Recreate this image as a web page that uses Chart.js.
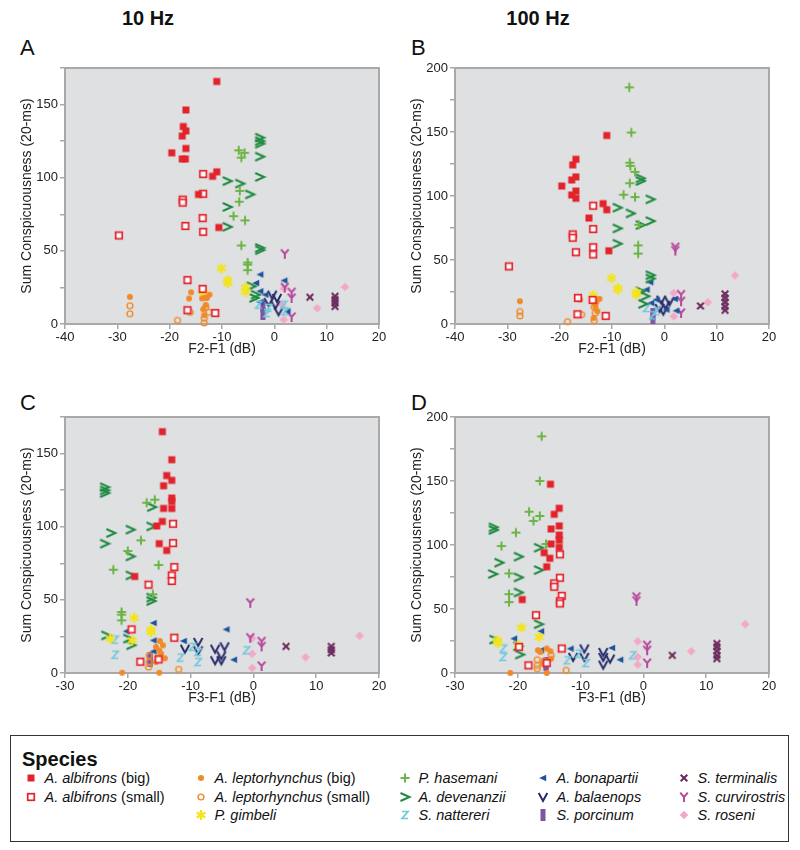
<!DOCTYPE html>
<html>
<head>
<meta charset="utf-8">
<script src="https://cdn.jsdelivr.net/npm/chart.js@4.4.1/dist/chart.umd.min.js"></script>
<style>
  body { margin: 0; background: #fff; font-family: 'Liberation Sans', Arial, sans-serif; color: #111; }
  #page { position: relative; width: 800px; height: 850px; overflow: hidden; }
  .panel { position: absolute; width: 392px; height: 305px; }
  .colhead { position: absolute; top: 7px; font-weight: bold; font-size: 20px; width: 120px; text-align: center; }
  .letter { position: absolute; font-size: 22px; }
  #legend { position: absolute; left: 10px; top: 735px; width: 777px; height: 105px; border: 1.5px solid #333; }
  #legend .title { position: absolute; left: 11px; top: 12px; font-weight: bold; font-size: 20px; }
  .item { position: absolute; font-size: 14.5px; white-space: nowrap; line-height: 18px; }
  .item canvas { position: absolute; top: 2px; }
  .item i { font-style: italic; }
</style>
</head>
<body>
<div id="page">
  <div class="colhead" style="left:88px">10 Hz</div>
  <div class="colhead" style="left:478px">100 Hz</div>
  <div class="letter" style="left:20px;top:35px">A</div>
  <div class="letter" style="left:411px;top:35px">B</div>
  <div class="letter" style="left:20px;top:390px">C</div>
  <div class="letter" style="left:411px;top:390px">D</div>
  <div class="panel" style="left:0;top:55px"><canvas id="chartA"></canvas></div>
  <div class="panel" style="left:390px;top:55px"><canvas id="chartB"></canvas></div>
  <div class="panel" style="left:0;top:404px"><canvas id="chartC"></canvas></div>
  <div class="panel" style="left:390px;top:404px"><canvas id="chartD"></canvas></div>
  <div id="legend"><div class="title">Species</div></div>
</div>
<script>
// ── Species ──────────────────────────────────────────────
const SPECIES_NAMES = ['A. albifrons', 'A. albifrons', 'A. leptorhynchus', 'A. leptorhynchus', 'P. gimbeli',
  'P. hasemani', 'A. devenanzii', 'S. nattereri', 'A. bonapartii', 'A. balaenops', 'S. porcinum',
  'S. terminalis', 'S. curvirostris', 'S. roseni'];
const SPECIES_NOTES = ['(big)', '(small)', '(big)', '(small)', '', '', '', '', '', '', '', '', '', ''];
const MARKERS = ['sq', 'sqo', 'dot', 'ring', 'star', 'plus', 'gt', 'z', 'tri', 'v', 'bar', 'x', 'y', 'dia'];
const COLORS = ['#e3232b', '#e3232b', '#f08a28', '#f08a28', '#f2e41e', '#6cb545', '#1f8a40', '#72c8dc',
  '#1b5499', '#262a6b', '#7d56a3', '#6a2a5c', '#b6479b', '#f3a8c8'];

// ── Axis ticks ───────────────────────────────────────────
const X_TICKS_F2 = [-40, -30, -20, -10, 0, 10, 20];
const X_TICKS_F3 = [-30, -20, -10, 0, 10, 20];
const Y_MAX_10HZ = 175;
const Y_MAX_100HZ = 200;

// ── Panel A: 10 Hz, F2-F1 ────────────────────────────────
const A_albBig = [[-11.0,165.8],[-16.9,146.3],[-17.4,135],[-16.9,132],[-17.6,128.5],[-16.9,120],[-19.6,117],[-17.6,112.8],[-17.0,112.8],[-11.0,104],[-11.8,101],[-14.5,88.6],[-10.6,66]];
const A_albSmall = [[-13.6,102.5],[-13.6,89],[-17.5,85],[-17.5,83],[-13.7,72.4],[-17.0,67],[-13.6,63],[-29.7,60.5],[-16.6,30],[-13.7,24],[-16.6,9.4],[-11.3,7.5]];
const A_lepBig = [[-27.6,18.5],[-15.9,21.7],[-16.3,17.4],[-12.4,20],[-13.2,18],[-13.8,17.5],[-12.9,17.8],[-13.1,13],[-13.6,10],[-13.4,6]];
const A_lepSmall = [[-27.6,12.5],[-27.6,7],[-18.5,2.5],[-16.1,8],[-13.1,11.6],[-12.5,8],[-13.4,4],[-13.4,0.7]];
const A_gimbeli = [[-10.1,38],[-8.9,30],[-8.9,28],[-5.5,25],[-5.5,22],[-13.6,21.7]];
const A_hasemani = [[-6.8,118.7],[-5.7,117],[-6.3,113.7],[-6.6,91],[-6.7,83.6],[-7.8,73.7],[-5.6,70.8],[-6.3,53.7],[-5.1,42],[-5.1,40.6],[-5.1,36.8]];
const A_devenanzii = [[-2.8,127.4],[-2.8,125],[-2.8,123.3],[-2.8,114.4],[-2.8,100.5],[-9.0,97.7],[-6.6,96],[-4.7,88.6],[-9.0,80],[-9.0,66.4],[-2.8,52],[-2.8,50.5],[-4.4,25.8],[-3.6,20],[-3.9,17.8]];
const A_nattereri = [[-3.0,13.2],[-1.4,7.5],[1.8,13.2],[2.1,8.7],[-1.1,11]];
const A_bonapartii = [[-2.7,33.8],[-3.5,28],[1.9,29.7],[-2.7,22.4],[-1.7,20],[-2.7,15],[2.5,8.7]];
const A_balaenops = [[-0.4,20],[0.5,17.8],[0.2,13.2],[0.8,8.7],[-1.1,15]];
const A_porcinum = [[-2.2,7],[-2.2,12]];
const A_terminalis = [[6.8,18.3],[11.6,19],[11.6,16.7],[11.6,14.4],[11.6,12]];
const A_curvirostris = [[2.0,48],[3.3,21.7],[3.3,17.8],[2.0,25],[3.3,4.8]];
const A_roseni = [[13.5,25.3],[8.2,10.7],[1.8,3],[1.8,24.2],[1.5,13]];

// ── Panel B: 100 Hz, F2-F1 ───────────────────────────────
const B_albBig = [[-11.0,147.3],[-16.9,128.7],[-17.5,124.3],[-16.9,114.9],[-17.7,112.5],[-19.6,107.8],[-16.9,103.9],[-17.7,100.8],[-16.9,98.2],[-11.7,94],[-11.0,89.3],[-14.4,82.8],[-10.6,57.2]];
const B_albSmall = [[-13.6,92.4],[-13.6,74.2],[-17.5,70],[-17.5,67.4],[-13.6,60],[-13.6,54.3],[-16.9,56.1],[-29.7,45],[-16.5,20.4],[-13.7,18.8],[-16.6,7.6],[-11.2,6.3]];
const B_lepBig = [[-27.6,17.8],[-16.1,19],[-12.4,19.6],[-13.0,17],[-13.2,13.8],[-12.8,10],[-13.5,4.7]];
const B_lepSmall = [[-27.6,9.7],[-27.6,6.3],[-18.5,1.8],[-15.8,7.3],[-13.4,13.3],[-13.2,8.6],[-13.4,2.6]];
const B_gimbeli = [[-10.1,35.8],[-8.9,28],[-8.9,27],[-5.3,24.8],[-5.4,23],[-13.6,22.5]];
const B_hasemani = [[-6.7,184.9],[-6.3,149.6],[-6.6,126],[-6.5,123.5],[-5.6,118.8],[-6.6,110],[-7.8,101],[-5.6,99.2],[-4.9,77.5],[-5.0,61.4],[-5.0,55]];
const B_devenanzii = [[-4.6,113.8],[-4.6,111.7],[-2.7,97.4],[-9.0,90.9],[-6.5,86.4],[-2.7,80.4],[-9.0,74.7],[-4.6,77.3],[-9.0,62.7],[-2.7,38.1],[-2.7,35.5],[-4.6,25.6],[-3.7,21.7],[-4.1,15.7]];
const B_nattereri = [[-3.4,12.5],[-1.5,10],[-2.2,6.8]];
const B_bonapartii = [[-2.7,32.6],[-3.4,26.9],[-1.5,19],[2.0,19.6],[-2.5,16.4],[2.3,10.4],[0.4,11.2]];
const B_balaenops = [[-0.6,19],[0.2,15],[-0.2,10.4],[1.0,17.8],[-0.9,12.5]];
const B_porcinum = [[-2.2,5],[-2.2,8]];
const B_terminalis = [[6.9,14.1],[11.6,23.5],[11.6,20.4],[11.6,17.2],[11.6,13.8],[11.6,10.7]];
const B_curvirostris = [[2.1,60],[2.1,57.4],[3.2,23],[3.2,17.8],[3.2,8.6]];
const B_roseni = [[13.5,37.9],[8.3,17],[1.8,24.3],[1.8,6]];

// ── Panel C: 10 Hz, F3-F1 ────────────────────────────────
const C_albBig = [[-14.5,165],[-13.0,145.8],[-13.8,135],[-13.0,131.7],[-14.3,128],[-13.0,119.6],[-13.0,117.3],[-14.3,112.5],[-13.0,112.5],[-14.5,103.6],[-15.4,100.5],[-15.0,88.4],[-13.8,83.8],[-18.9,66]];
const C_albSmall = [[-12.8,102],[-12.8,88.8],[-12.6,72.4],[-13.0,66.7],[-13.0,62.9],[-16.7,60.4],[-19.4,29.8],[-12.6,24.1],[-18.0,7.7],[-15.1,9.3]];
const C_lepBig = [[-14.9,21.9],[-14.4,18.9],[-15.5,17.8],[-15.0,15.5],[-14.7,13.2],[-14.1,10],[-15.2,9.8],[-15.5,7.5],[-20.9,0.2],[-15.0,0.2]];
const C_lepSmall = [[-11.9,2.5],[-16.6,12],[-16.6,7.5],[-16.7,4],[-15.2,10.5]];
const C_gimbeli = [[-19.0,37.8],[-16.3,29.6],[-16.3,28],[-22.8,23.5],[-19.3,22.3]];
const C_hasemani = [[-15.7,118.5],[-17.0,116.4],[-17.9,90.7],[-20.0,83.4],[-22.3,70.6],[-15.1,73.8],[-16.0,53.8],[-21.0,41.7],[-21.0,39.9],[-21.0,36]];
const C_devenanzii = [[-23.7,127],[-23.7,124.8],[-23.7,123],[-16.2,113.4],[-16.3,100.2],[-22.7,95.7],[-19.6,98],[-23.7,88.4],[-19.6,79.7],[-19.6,66.7],[-16.3,51.5],[-16.3,49.2],[-23.5,25.7],[-20.0,23.5],[-19.5,19]];
const C_nattereri = [[-22.0,22.8],[-22.0,12.5],[-11.6,10.5],[-8.8,14.4],[-8.8,7.5],[-9.7,17.8],[-1.1,15.5]];
const C_bonapartii = [[-15.9,34.2],[-4.3,29.8],[-20.2,28.5],[-15.9,22.3],[-11.1,21.9],[-15.9,14.8],[-3.1,9.1]];
const C_balaenops = [[-8.8,21.2],[-10.9,16.6],[-8.8,15.5],[-6.1,16.6],[-4.6,18.2],[-5.1,12.1],[-6.1,8.7],[-5.1,8.7]];
const C_porcinum = [[-16.4,8],[-16.4,10]];
const C_terminalis = [[5.2,18.2],[12.4,18.2],[12.4,15.9],[12.4,13.7]];
const C_curvirostris = [[-0.5,48],[-0.5,24.1],[1.3,21.6],[1.3,18.2],[1.3,4.8]];
const C_roseni = [[16.9,25.5],[8.3,10.7],[-0.2,23.7],[-0.2,13.2],[-0.2,3.4]];

// ── Panel D: 100 Hz, F3-F1 ───────────────────────────────
const D_albBig = [[-14.8,147.5],[-13.4,128.7],[-14.2,124],[-14.7,112.5],[-13.4,114.9],[-13.4,107.8],[-13.4,103.9],[-13.4,98.2],[-14.7,100.8],[-15.8,94],[-14.9,89.6],[-15.4,83],[-19.3,57.4]];
const D_albSmall = [[-13.3,92.7],[-13.3,74.4],[-14.2,70],[-14.2,67.4],[-13.0,60.3],[-13.3,56.1],[-13.3,54.3],[-17.1,45.2],[-13.0,19.1],[-19.8,20.4],[-15.4,7.8],[-18.3,6]];
const D_lepBig = [[-16.8,17.8],[-15.4,19.1],[-14.8,17],[-14.7,11.2],[-16.4,16.4],[-16.0,7.3],[-21.2,0],[-15.4,0]];
const D_lepSmall = [[-12.3,2.1],[-16.9,10.4],[-16.9,6],[-16.9,3.4],[-15.8,9.4],[-14.7,13.8]];
const D_gimbeli = [[-19.4,35.5],[-16.6,28.2],[-23.2,25.6],[-23.2,23.5],[-19.9,21.7]];
const D_hasemani = [[-16.2,184.9],[-16.5,150],[-18.2,126],[-16.5,122.7],[-17.5,118.8],[-20.3,109.7],[-15.5,100.8],[-22.6,99.2],[-21.4,77.8],[-21.4,61.6],[-21.4,55.4]];
const D_devenanzii = [[-23.9,113.8],[-23.9,111.7],[-16.7,97.9],[-19.9,90.9],[-23.0,86.2],[-24.0,77.3],[-19.9,74.7],[-16.7,80.4],[-19.9,62.9],[-16.7,38.1],[-23.8,26.1],[-20.0,20.9],[-19.7,14.4]];
const D_nattereri = [[-22.3,19.1],[-22.3,12.5],[-12.1,9.9],[-9.1,7.8],[-10.3,15.1],[-1.7,13.8]];
const D_bonapartii = [[-16.3,32.6],[-20.6,26.9],[-16.3,17.8],[-11.6,19],[-5.0,19.6],[-3.7,10.4]];
const D_balaenops = [[-9.4,19.1],[-11.2,12.5],[-9.4,12.5],[-6.4,16.4],[-6.4,12.5],[-5.3,11.2],[-6.4,6.5]];
const D_porcinum = [[-15.5,6],[-15.5,8]];
const D_terminalis = [[4.6,13.8],[11.7,23],[11.7,20.4],[11.7,17.2],[11.7,13.8],[11.7,11.2]];
const D_curvirostris = [[-1.1,59.5],[-1.1,56.4],[0.6,21.7],[0.6,17.8],[0.6,7.8]];
const D_roseni = [[16.2,38.1],[7.6,17],[-0.9,24.8],[-0.9,12.5],[-0.9,6.5]];

// ── Marker images ────────────────────────────────────────
function makeMarker(kind, color) {
  const c = document.createElement('canvas');
  c.width = 14; c.height = 14;
  if (kind === 'bar') { c.width = 6; c.height = 12; }
  const g = c.getContext('2d');
  g.translate(c.width / 2, c.height / 2);
  g.strokeStyle = color;
  g.fillStyle = color;
  g.lineWidth = 2;
  g.beginPath();
  switch (kind) {
    case 'sq':   g.fillRect(-3.5, -3.5, 7, 7); break;
    case 'sqo':
      g.fillStyle = 'rgba(255,255,255,0.9)';
      g.fillRect(-4, -4, 8, 8);
      g.lineWidth = 1.7;
      g.strokeRect(-3.3, -3.3, 6.6, 6.6);
      break;
    case 'dot':  g.arc(0, 0, 3, 0, Math.PI * 2); g.fill(); break;
    case 'ring': g.lineWidth = 1.4; g.arc(0, 0, 2.9, 0, Math.PI * 2); g.stroke(); break;
    case 'star':
      g.lineWidth = 2.4;
      g.moveTo(0, -5); g.lineTo(0, 5);
      g.moveTo(-4.3, -2.5); g.lineTo(4.3, 2.5);
      g.moveTo(-4.3, 2.5); g.lineTo(4.3, -2.5);
      g.stroke(); break;
    case 'plus':
      g.moveTo(0, -4.5); g.lineTo(0, 4.5);
      g.moveTo(-4.5, 0); g.lineTo(4.5, 0);
      g.stroke(); break;
    case 'gt':
      g.moveTo(-4.5, -4); g.lineTo(4.5, 0); g.lineTo(-4.5, 4);
      g.stroke(); break;
    case 'z':
      g.lineWidth = 1.7;
      g.moveTo(-3, -3.5); g.lineTo(3, -3.5); g.lineTo(-3, 3.5); g.lineTo(3, 3.5);
      g.stroke(); break;
    case 'tri':
      g.moveTo(-3.8, 0); g.lineTo(3.2, -3.3); g.lineTo(3.2, 3.3); g.closePath();
      g.fill(); break;
    case 'v':
      g.moveTo(-4.3, -4); g.lineTo(0, 4); g.lineTo(4.3, -4);
      g.stroke(); break;
    case 'bar':  g.fillRect(-2.5, -6, 5, 12); break;
    case 'x':
      g.moveTo(-3.3, -3.3); g.lineTo(3.3, 3.3);
      g.moveTo(-3.3, 3.3); g.lineTo(3.3, -3.3);
      g.stroke(); break;
    case 'y':
      g.moveTo(-3.8, -4.3); g.lineTo(0, 0); g.lineTo(3.8, -4.3);
      g.moveTo(0, 0); g.lineTo(0, 5);
      g.stroke(); break;
    case 'dia':
      g.moveTo(0, -4.3); g.lineTo(4.3, 0); g.lineTo(0, 4.3); g.lineTo(-4.3, 0); g.closePath();
      g.fill(); break;
  }
  return c;
}

const MARKER_IMAGES = MARKERS.map((m, i) => makeMarker(m, COLORS[i]));

// ── Plot background + frame ──────────────────────────────
const plotFrame = {
  id: 'plotFrame',
  beforeDraw(chart) {
    const { ctx, chartArea: a } = chart;
    ctx.save();
    ctx.fillStyle = '#dfe0e2';
    ctx.fillRect(a.left, a.top, a.right - a.left, a.bottom - a.top);
    ctx.strokeStyle = '#a9a9a9';
    ctx.lineWidth = 2;
    ctx.strokeRect(a.left, a.top, a.right - a.left, a.bottom - a.top);
    ctx.restore();
  }
};

const AXIS_COLOR = '#a9a9a9';
const TICK_FONT = { family: "'Liberation Sans', Arial, sans-serif", size: 13 };

function buildPanel(canvasId, sets, xTicks, yMax, xTitle) {
  const datasets = sets.map((pts, i) => ({
    label: SPECIES_NAMES[i] + ' ' + SPECIES_NOTES[i],
    data: pts.map(p => ({ x: p[0], y: p[1] })),
    pointStyle: MARKER_IMAGES[i],
    pointRadius: 5,
    clip: 6,
  }));

  return new Chart(document.getElementById(canvasId), {
    type: 'scatter',
    data: { datasets },
    options: {
      responsive: false,
      animation: false,
      events: [],
      layout: { padding: { top: 13, right: 13, left: 0, bottom: 0 } },
      plugins: { legend: { display: false }, tooltip: { enabled: false } },
      scales: {
        x: {
          type: 'linear',
          min: xTicks[0],
          max: xTicks[xTicks.length - 1],
          afterBuildTicks: (s) => { s.ticks = xTicks.map(v => ({ value: v })); },
          afterFit: (s) => { s.height = 36; },
          grid: { drawOnChartArea: false, drawTicks: true, tickLength: 5, color: AXIS_COLOR, lineWidth: 1.5 },
          border: { display: true, color: AXIS_COLOR, width: 2 },
          ticks: { color: '#222', font: TICK_FONT, padding: 1, maxRotation: 0, autoSkip: false },
          title: { display: true, text: xTitle, color: '#222', font: { family: TICK_FONT.family, size: 14 }, padding: { top: 0, bottom: 2 } }
        },
        y: {
          type: 'linear',
          min: 0,
          max: yMax,
          afterFit: (s) => { s.width = 65; },
          grid: { drawOnChartArea: false, drawTicks: true, tickLength: 5, color: AXIS_COLOR, lineWidth: 1.5 },
          border: { display: true, color: AXIS_COLOR, width: 2 },
          ticks: {
            stepSize: 25, autoSkip: false, color: '#222', font: TICK_FONT, padding: 2,
            callback: (v) => (v % 50 === 0 ? v : '')
          },
          title: { display: true, text: 'Sum Conspicuousness (20-ms)', color: '#222', font: { family: TICK_FONT.family, size: 14 }, padding: { top: 19, bottom: 0 } }
        }
      }
    },
    plugins: [plotFrame]
  });
}

function sizeCanvas(id) {
  const c = document.getElementById(id);
  c.width = 392; c.height = 305;
  c.style.width = '392px'; c.style.height = '305px';
}
['chartA', 'chartB', 'chartC', 'chartD'].forEach(sizeCanvas);

buildPanel('chartA', [A_albBig, A_albSmall, A_lepBig, A_lepSmall, A_gimbeli, A_hasemani, A_devenanzii, A_nattereri, A_bonapartii, A_balaenops, A_porcinum, A_terminalis, A_curvirostris, A_roseni], X_TICKS_F2, Y_MAX_10HZ, 'F2-F1 (dB)');
buildPanel('chartB', [B_albBig, B_albSmall, B_lepBig, B_lepSmall, B_gimbeli, B_hasemani, B_devenanzii, B_nattereri, B_bonapartii, B_balaenops, B_porcinum, B_terminalis, B_curvirostris, B_roseni], X_TICKS_F2, Y_MAX_100HZ, 'F2-F1 (dB)');
buildPanel('chartC', [C_albBig, C_albSmall, C_lepBig, C_lepSmall, C_gimbeli, C_hasemani, C_devenanzii, C_nattereri, C_bonapartii, C_balaenops, C_porcinum, C_terminalis, C_curvirostris, C_roseni], X_TICKS_F3, Y_MAX_10HZ, 'F3-F1 (dB)');
buildPanel('chartD', [D_albBig, D_albSmall, D_lepBig, D_lepSmall, D_gimbeli, D_hasemani, D_devenanzii, D_nattereri, D_bonapartii, D_balaenops, D_porcinum, D_terminalis, D_curvirostris, D_roseni], X_TICKS_F3, Y_MAX_100HZ, 'F3-F1 (dB)');

// ── Legend (HTML) ────────────────────────────────────────
// column of each species and its row; x = marker centre, text starts 14px right
const LEGEND_COLS = [21, 191, 395, 533, 674];
const LEGEND_ROWS = [769, 788, 806];
const LEGEND_SLOT = [[0,0],[0,1],[1,0],[1,1],[1,2],[2,0],[2,1],[2,2],[3,0],[3,1],[3,2],[4,0],[4,1],[4,2]];

const legend = document.getElementById('legend');
LEGEND_SLOT.forEach(([col, row], i) => {
  const item = document.createElement('div');
  item.className = 'item';
  item.style.left = (LEGEND_COLS[col] - 10 - 1.5) + 'px';
  item.style.top = (LEGEND_ROWS[row] - 735 - 1.5) + 'px';
  const mk = makeMarker(MARKERS[i], COLORS[i]);
  mk.style.left = (10 - mk.width / 2) + 'px';
  mk.style.top = (9 - mk.height / 2) + 'px';
  item.appendChild(mk);
  const txt = document.createElement('span');
  txt.style.marginLeft = '24px';
  txt.innerHTML = '<i>' + SPECIES_NAMES[i] + '</i>' + (SPECIES_NOTES[i] ? ' ' + SPECIES_NOTES[i] : '');
  item.appendChild(txt);
  legend.appendChild(item);
});
</script>
</body>
</html>
